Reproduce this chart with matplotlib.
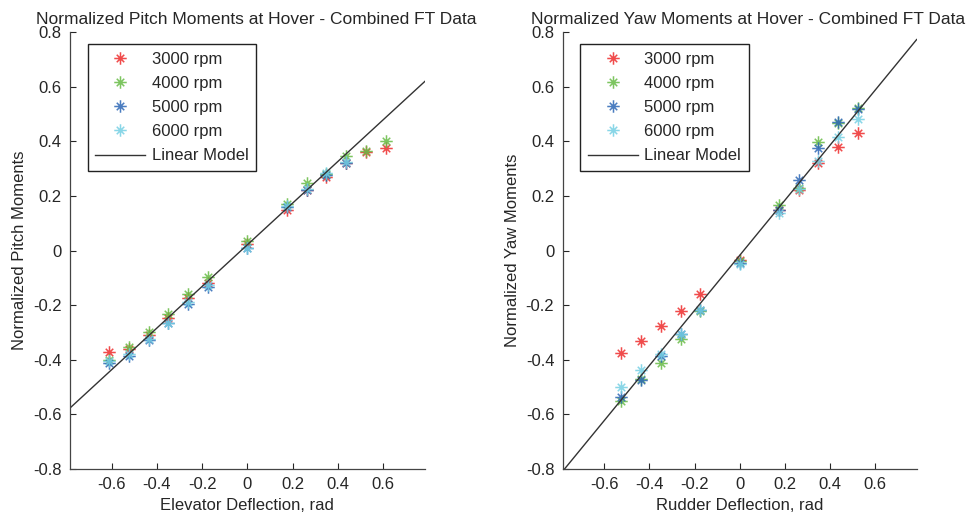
import numpy as np
import matplotlib
matplotlib.use("Agg")
import matplotlib.pyplot as plt
from matplotlib.path import Path

plt.rcParams['font.family'] = ['Liberation Sans', 'DejaVu Sans']
plt.rcParams['axes.unicode_minus'] = False

nan = np.nan

# pitch data (elevator deflection, rad)
elev = [-0.611, -0.524, -0.436, -0.349, -0.262, -0.175, 0.0,
        0.175, 0.262, 0.349, 0.436, 0.524, 0.611]
pitch_3000 = [-0.371, -0.361, -0.310, -0.248, -0.175, -0.118, 0.024,
              0.150, 0.220, 0.268, 0.322, 0.360, 0.374]
pitch_4000 = [-0.401, -0.355, -0.297, -0.234, -0.160, -0.096, 0.035,
              0.170, 0.246, 0.280, 0.346, 0.366, 0.401]
pitch_5000 = [-0.410, -0.385, -0.328, -0.267, -0.196, -0.135, 0.010,
              0.160, 0.222, 0.278, 0.319, nan, nan]
pitch_6000 = [-0.405, -0.380, -0.325, -0.265, -0.188, -0.128, 0.008,
              0.162, 0.225, 0.283, 0.325, nan, nan]

# yaw data (rudder deflection, rad)
rud = [-0.524, -0.436, -0.349, -0.262, -0.175, 0.0,
       0.175, 0.262, 0.349, 0.436, 0.524]
yaw_3000 = [-0.377, -0.332, -0.277, -0.220, -0.160, -0.034,
            0.148, 0.220, 0.322, 0.378, 0.432]
yaw_4000 = [-0.551, -0.469, -0.413, -0.325, -0.220, -0.040,
            0.167, 0.230, 0.398, 0.468, 0.520]
yaw_5000 = [-0.537, -0.475, -0.385, -0.306, -0.218, -0.045,
            0.150, 0.258, 0.376, 0.472, 0.518]
yaw_6000 = [-0.498, -0.438, -0.380, -0.306, -0.216, -0.049,
            0.138, 0.224, 0.327, 0.417, 0.480]

labels = ['3000 rpm', '4000 rpm', '5000 rpm', '6000 rpm']
colors = ['#ee2b2b', '#66bb44', '#2b66b5', '#74cfe3']

# linear model: slope, intercept
pitch_fit = (0.762, 0.021)
yaw_fit = (1.007, -0.018)

# MATLAB style asterisk marker
verts = [(-1, 0), (1, 0), (0, -1), (0, 1),
         (-0.6, -0.6), (0.6, 0.6), (-0.6, 0.6), (0.6, -0.6)]
codes = [Path.MOVETO, Path.LINETO] * 4
star = Path(verts, codes)

txt = '#262626'
xlim = (-0.785, 0.785)

fig = plt.figure(figsize=(9.7, 5.19), dpi=100)
ax1 = fig.add_axes([0.072, 0.0963, 0.366, 0.842])
ax2 = fig.add_axes([0.580, 0.0963, 0.365, 0.842])


def panel(ax, x, series, fit, title, xlabel, ylabel):
    for y, lab, c in zip(series, labels, colors):
        ax.plot(x, y, linestyle='none', marker=star, markersize=9,
                markeredgewidth=1.1, color=c, alpha=0.85, label=lab)
    xx = np.array(xlim)
    ax.plot(xx, fit[0] * xx + fit[1], color='#333333', lw=1,
            label='Linear Model')
    ax.set_xlim(xlim)
    ax.set_ylim(-0.8, 0.8)
    ax.set_xticks([-0.6, -0.4, -0.2, 0, 0.2, 0.4, 0.6])
    ax.set_xticklabels(['-0.6', '-0.4', '-0.2', '0', '0.2', '0.4', '0.6'])
    ax.set_yticks([-0.8, -0.6, -0.4, -0.2, 0, 0.2, 0.4, 0.6, 0.8])
    ax.set_yticklabels(['-0.8', '-0.6', '-0.4', '-0.2', '0',
                        '0.2', '0.4', '0.6', '0.8'])
    ax.tick_params(direction='in', length=4, width=0.8, labelsize=12,
                   colors=txt, pad=6)
    ax.spines['top'].set_visible(False)
    ax.spines['right'].set_visible(False)
    for s in ('left', 'bottom'):
        ax.spines[s].set_color('#444444')
        ax.spines[s].set_linewidth(0.9)
    ax.set_title(title, fontsize=12.5, color=txt, pad=6, x=0.524)
    ax.set_xlabel(xlabel, fontsize=12, color=txt, labelpad=4)
    ax.set_ylabel(ylabel, fontsize=12, color=txt, labelpad=4)
    leg = ax.legend(loc='upper left', bbox_to_anchor=(0.05, 0.972),
                    fontsize=12, numpoints=1, handlelength=3.0,
                    handletextpad=0.4, labelspacing=0.55, borderpad=0.45,
                    fancybox=False, framealpha=1, borderaxespad=0)
    leg.get_frame().set_edgecolor('#222222')
    leg.get_frame().set_linewidth(1.0)
    for t in leg.get_texts():
        t.set_color(txt)


panel(ax1, elev, [pitch_3000, pitch_4000, pitch_5000, pitch_6000], pitch_fit,
      'Normalized Pitch Moments at Hover - Combined FT Data',
      'Elevator Deflection, rad', 'Normalized Pitch Moments')
panel(ax2, rud, [yaw_3000, yaw_4000, yaw_5000, yaw_6000], yaw_fit,
      'Normalized Yaw Moments at Hover - Combined FT Data',
      'Rudder Deflection, rad', 'Normalized Yaw Moments')

fig.savefig('out.png', dpi=100)
